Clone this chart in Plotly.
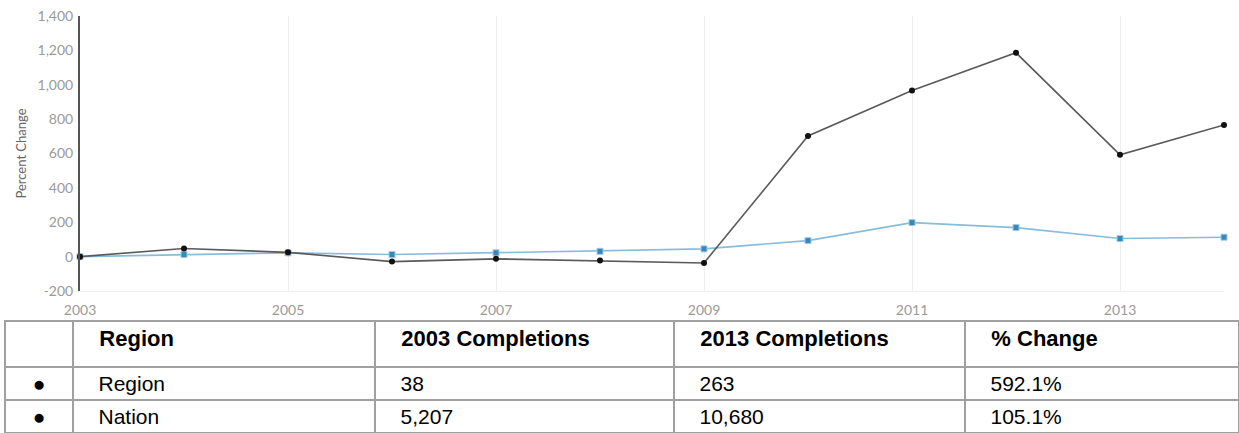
import plotly.graph_objects as go

years = list(range(2003, 2015))
region_pct = [0, 47, 25, -29, -13, -23, -37, 702, 967, 1186, 592.1, 766]
nation_pct = [0, 12, 22, 12, 22, 31, 45, 93, 198, 169, 105.1, 113]

x_tickvals = [2003, 2005, 2007, 2009, 2011, 2013]
x_ticktext = ["2003", "2005", "2007", "2009", "2011", "2013"]
y_tickvals = [-200, 0, 200, 400, 600, 800, 1000, 1200, 1400]
y_ticktext = ["-200", "0", "200", "400", "600", "800", "1,000", "1,200", "1,400"]

tbl_marker = ["●", "●"]
tbl_region = ["Region", "Nation"]
tbl_2003 = ["38", "5,207"]
tbl_2013 = ["263", "10,680"]
tbl_change = ["592.1%", "105.1%"]
tbl_headers = ["", "Region", "2003 Completions", "2013 Completions", "% Change"]

W, H = 1239, 433
ML, MR, MT, MB = 5, 0, 16, 0
pw, ph = W - ML - MR, H - MT - MB

def px_x(x):
    return (x - ML) / pw

def px_y(y):
    return (H - MB - y) / ph

pad = "\u00a0\u00a0\u00a0"

def padded(lst):
    return [pad + s for s in lst]

fig = go.Figure()

fig.add_trace(go.Scatter(
    x=years, y=nation_pct, mode="lines+markers", name="Nation",
    line=dict(color="#86bddd", width=1.6),
    marker=dict(symbol="square", size=6, color="#3a86b6",
                line=dict(color="#9ccbe6", width=1)),
    xaxis="x", yaxis="y", showlegend=False, cliponaxis=False,
))
fig.add_trace(go.Scatter(
    x=years, y=region_pct, mode="lines+markers", name="Region",
    line=dict(color="#5a5a5a", width=1.6),
    marker=dict(symbol="circle", size=6, color="#111111"),
    xaxis="x", yaxis="y", showlegend=False, cliponaxis=False,
))

fig.add_trace(go.Table(
    domain=dict(x=[0, 1], y=[0, px_y(321)]),
    columnwidth=[68, 302, 299, 291, 274],
    header=dict(
        values=[tbl_headers[0]] + padded(tbl_headers[1:]),
        align="left",
        height=46,
        fill_color="white",
        line=dict(color="#a0a0a0", width=2),
        font=dict(family="Liberation Sans, Arial", size=22, color="#000000", weight="bold"),
    ),
    cells=dict(
        values=[tbl_marker, padded(tbl_region), padded(tbl_2003), padded(tbl_2013), padded(tbl_change)],
        align=["center", "left", "left", "left", "left"],
        height=33,
        fill_color="white",
        line=dict(color="#a0a0a0", width=2),
        font=dict(family="Liberation Sans, Arial", size=21, color="#000000"),
    ),
))

fig.update_layout(
    width=W, height=H,
    margin=dict(l=ML, r=MR, t=MT, b=MB),
    paper_bgcolor="white",
    plot_bgcolor="white",
    xaxis=dict(
        domain=[px_x(80), px_x(1224)],
        range=[2003, 2014],
        tickmode="array",
        tickvals=x_tickvals,
        ticktext=x_ticktext,
        showgrid=True, gridcolor="#efefef", gridwidth=1,
        zeroline=False,
        showline=True, linecolor="#eeeeee", linewidth=1,
        ticks="", ticklabelstandoff=6,
        tickfont=dict(family="Lato", size=14, color="#9a9a9a"),
        anchor="y", fixedrange=True, automargin=False,
    ),
    yaxis=dict(
        domain=[px_y(291), px_y(16)],
        range=[-200, 1400],
        tickmode="array",
        tickvals=y_tickvals,
        ticktext=y_ticktext,
        showgrid=False, zeroline=False,
        showline=True, linecolor="#555555", linewidth=2,
        ticks="", ticklabelstandoff=2,
        tickfont=dict(family="Lato", size=14, color="#9a9a9a"),
        title=dict(text="Percent Change", font=dict(family="Lato", size=13, color="#666666"), standoff=8),
        anchor="x", automargin=False,
    ),
)

fig.write_html(
    "out.html",
    config={"displayModeBar": False},
    post_script="document.body.style.margin='0';document.body.style.overflow='hidden';",
)
